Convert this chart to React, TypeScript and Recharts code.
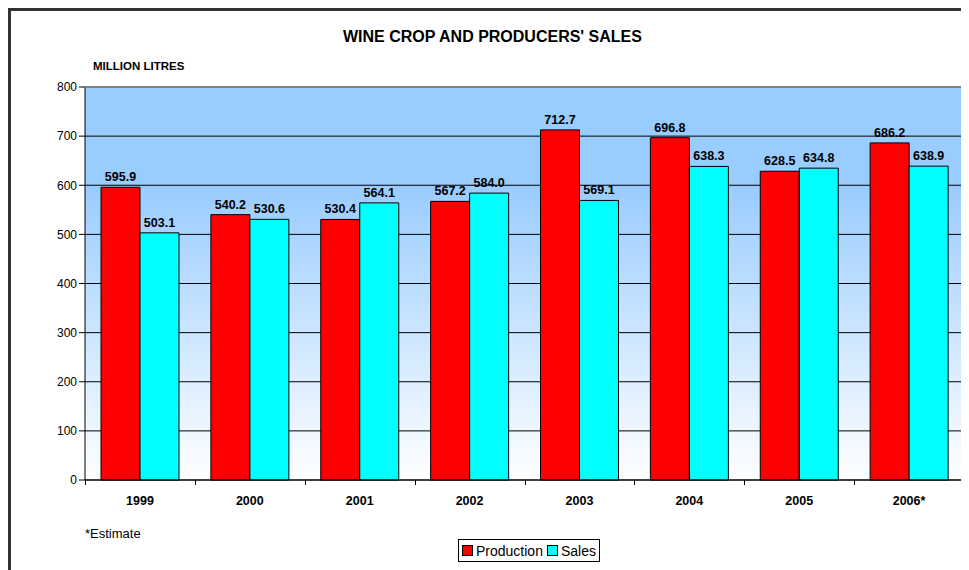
import { BarChart, Bar, XAxis, YAxis, CartesianGrid, LabelList } from "recharts";

const years = ["1999", "2000", "2001", "2002", "2003", "2004", "2005", "2006*"];
const production = [595.9, 540.2, 530.4, 567.2, 712.7, 696.8, 628.5, 686.2];
const sales = [503.1, 530.6, 564.1, 584.0, 569.1, 638.3, 634.8, 638.9];
const yTicks = [0, 100, 200, 300, 400, 500, 600, 700, 800];

const data = years.map((year, i) => ({
  year,
  production: production[i],
  sales: sales[i],
}));

const font = "'Liberation Sans', Arial, sans-serif";

export default function App() {
  return (
    <div style={{ position: "relative", width: 961, height: 562, fontFamily: font }}>
      <BarChart
        width={961}
        height={562}
        data={data}
        margin={{ top: 79, right: 5, bottom: 60, left: 37 }}
        barCategoryGap={16}
        barGap={0}
      >
        <defs>
          <linearGradient id="plotBg" x1="0" y1="0" x2="0" y2="1">
            <stop offset="0" stopColor="#99CCFF" />
            <stop offset="0.25" stopColor="#99CCFF" />
            <stop offset="1" stopColor="#FFFFFF" />
          </linearGradient>
        </defs>
        <CartesianGrid vertical={false} stroke="#000" fill="url(#plotBg)" fillOpacity={1} />
        <XAxis
          dataKey="year"
          height={30}
          stroke="#000"
          tickLine={false}
          tick={{ fontSize: 12.5, fontWeight: "bold", fill: "#000", fontFamily: font }}
          tickMargin={10}
        />
        <YAxis
          width={40}
          domain={[0, 800]}
          ticks={yTicks}
          stroke="#000"
          tickSize={6}
          tickMargin={2}
          tick={{ fontSize: 12, fill: "#000", fontFamily: font }}
        />
        <Bar dataKey="production" fill="#FF0000" stroke="#000" strokeWidth={1} isAnimationActive={false}>
          <LabelList
            dataKey="production"
            position="top"
            offset={6}
            formatter={(v: number) => v.toFixed(1)}
            style={{ fontSize: 12.5, fontWeight: "bold", fill: "#000", fontFamily: font }}
          />
        </Bar>
        <Bar dataKey="sales" fill="#00FFFF" stroke="#000" strokeWidth={1} isAnimationActive={false}>
          <LabelList
            dataKey="sales"
            position="top"
            offset={6}
            formatter={(v: number) => v.toFixed(1)}
            style={{ fontSize: 12.5, fontWeight: "bold", fill: "#000", fontFamily: font }}
          />
        </Bar>
      </BarChart>

      {/* category separators below the axis */}
      {years.map((y, i) => (
        <div
          key={y}
          style={{
            position: "absolute",
            left: 77 + (879 / 8) * i,
            top: 472,
            width: 1,
            height: 5,
            background: "#000",
          }}
        />
      ))}

      {/* plot frame top/right */}
      <div
        style={{
          position: "absolute",
          left: 77,
          top: 79,
          width: 879,
          height: 393,
          borderTop: "1px solid #808080",
          borderRight: "2px solid #808080",
          boxSizing: "border-box",
          pointerEvents: "none",
        }}
      />

      {/* outer frame */}
      <div
        style={{
          position: "absolute",
          left: 0,
          top: 0,
          width: 961,
          height: 562,
          borderLeft: "3px solid #333",
          borderTop: "3px solid #333",
          boxSizing: "border-box",
          pointerEvents: "none",
        }}
      />

      <div
        style={{
          position: "absolute",
          left: 0,
          width: 961,
          top: 20,
          textAlign: "center",
          fontSize: 16,
          fontWeight: "bold",
          paddingLeft: 8,
          boxSizing: "border-box",
        }}
      >
        WINE CROP AND PRODUCERS' SALES
      </div>
      <div style={{ position: "absolute", left: 85, top: 52, fontSize: 11.5, fontWeight: "bold" }}>
        MILLION LITRES
      </div>
      <div style={{ position: "absolute", left: 77, top: 518, fontSize: 13 }}>*Estimate</div>

      <div
        style={{
          position: "absolute",
          left: 450,
          top: 531,
          height: 23,
          border: "1px solid #000",
          display: "flex",
          alignItems: "center",
          padding: "0 3px",
          fontSize: 14,
          boxSizing: "border-box",
        }}
      >
        <span style={{ width: 9, height: 9, background: "#FF0000", border: "1px solid #000", marginRight: 3 }} />
        <span style={{ marginRight: 4 }}>Production</span>
        <span style={{ width: 9, height: 9, background: "#00FFFF", border: "1px solid #000", marginRight: 3 }} />
        <span>Sales</span>
      </div>
    </div>
  );
}
